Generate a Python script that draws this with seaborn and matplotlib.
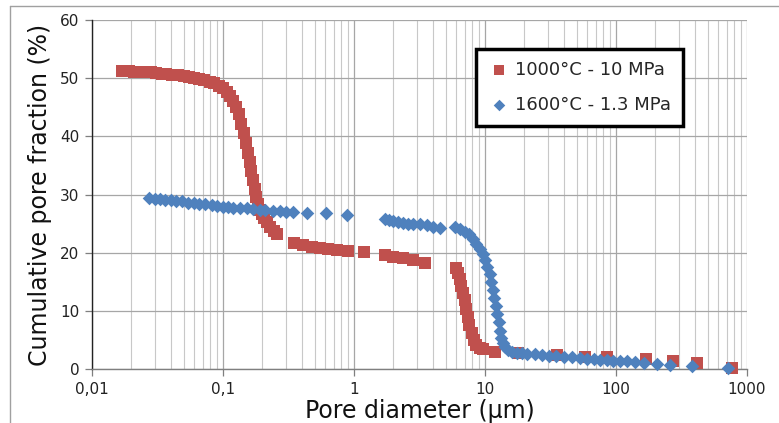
import seaborn as sns
import pandas as pd
import matplotlib.pyplot as plt
import numpy as np
from matplotlib.ticker import LogLocator, NullFormatter
from matplotlib.lines import Line2D

# 1000°C - 10 MPa (red squares)
red_d = [0.017, 0.019, 0.021, 0.023, 0.025, 0.028, 0.031, 0.034, 0.037, 0.041,
         0.045, 0.05, 0.055, 0.06, 0.066, 0.072, 0.079, 0.086, 0.094, 0.1,
         0.107, 0.114, 0.12, 0.126, 0.132, 0.138, 0.144, 0.15, 0.155, 0.16,
         0.165, 0.17, 0.175, 0.18, 0.185, 0.19, 0.197, 0.205, 0.215, 0.23,
         0.245, 0.26, 0.35, 0.41, 0.48, 0.55, 0.63, 0.74, 0.9, 1.19,
         1.72, 1.98, 2.37, 2.8, 3.5, 6.0, 6.2, 6.4, 6.6, 6.8,
         7.0, 7.2, 7.4, 7.6, 7.9, 8.2, 8.6, 9.1, 9.7, 11.9,
         18, 35.7, 58, 85, 170, 270, 415, 770]
red_v = [51.2, 51.2, 51.1, 51.1, 51.0, 51.0, 50.9, 50.8, 50.7, 50.6,
         50.5, 50.4, 50.2, 50.0, 49.8, 49.6, 49.4, 49.1, 48.7, 48.3,
         47.7, 47.0, 46.0, 45.0, 43.8, 42.2, 40.5, 38.8, 37.2, 35.6,
         34.0, 32.5, 31.0, 29.5, 28.3, 27.4, 26.6, 25.9, 25.2, 24.4,
         23.7, 23.2, 21.6, 21.3, 21.0, 20.8, 20.6, 20.4, 20.3, 20.1,
         19.6, 19.3, 19.0, 18.7, 18.2, 17.3, 16.5, 15.5, 14.3, 13.0,
         11.8, 10.4, 9.0, 7.6, 6.2, 5.0, 4.2, 3.6, 3.4, 2.9,
         2.8, 2.4, 2.1, 2.1, 1.7, 1.4, 1.1, 0.1]

# 1600°C - 1.3 MPa (blue diamonds)
blue_d = [0.027, 0.030, 0.033, 0.036, 0.040, 0.044, 0.049, 0.054, 0.060, 0.066,
          0.073, 0.082, 0.09, 0.1, 0.11, 0.12, 0.135, 0.152, 0.17, 0.19,
          0.21, 0.24, 0.27, 0.30, 0.34, 0.44, 0.61, 0.88, 1.72, 1.85,
          1.98, 2.15, 2.37, 2.6, 2.8, 3.2, 3.6, 4.0, 4.5, 5.9,
          6.5, 7.0, 7.5, 8.1, 8.6, 9.1, 9.6, 10.0, 10.4, 10.9,
          11.2, 11.5, 11.8, 12.1, 12.4, 12.7, 13.0, 13.3, 13.7, 14.3,
          15.0, 16.0, 17.5, 19, 21, 24, 27, 31, 35, 40,
          46, 53, 60, 68, 76, 85, 95, 108, 122, 140,
          163, 205, 260, 380, 720]
blue_v = [29.4, 29.3, 29.2, 29.1, 29.0, 28.9, 28.8, 28.6, 28.5, 28.45,
          28.4, 28.2, 28.0, 27.9, 27.8, 27.7, 27.6, 27.6, 27.5, 27.4,
          27.3, 27.2, 27.1, 27.0, 27.0, 26.9, 26.8, 26.4, 25.8, 25.6,
          25.4, 25.3, 25.1, 25.0, 25.0, 24.9, 24.7, 24.4, 24.2, 24.4,
          24.0, 23.6, 23.2, 22.4, 21.5, 20.6, 19.7, 18.7, 17.6, 16.4,
          15.0, 13.6, 12.2, 10.8, 9.5, 8.0, 6.6, 5.4, 4.5, 3.7,
          3.2, 3.0, 2.8, 2.7, 2.6, 2.5, 2.4, 2.3, 2.2, 2.1,
          2.0, 1.9, 1.8, 1.7, 1.6, 1.5, 1.4, 1.4, 1.3, 1.2,
          1.1, 0.9, 0.7, 0.5, 0.1]

x_ticks = [0.01, 0.1, 1, 10, 100, 1000]
x_tick_labels = ['0,01', '0,1', '1', '10', '100', '1000']
y_ticks = [0, 10, 20, 30, 40, 50, 60]

red_df = pd.DataFrame({'d': red_d, 'v': red_v})
blue_df = pd.DataFrame({'d': blue_d, 'v': blue_v})

sns.set_theme(style='white')
plt.rcParams['font.family'] = ['DejaVu Sans']

fig = plt.figure(figsize=(7.79, 4.23), dpi=100)
ax = fig.add_axes([92 / 779, 1 - 369 / 423, 655 / 779, 349 / 423])

sns.scatterplot(data=red_df, x='d', y='v', marker='s', s=68, color='#C0504D',
                linewidth=0, ax=ax, label='1000°C - 10 MPa', clip_on=False, zorder=3)
sns.scatterplot(data=blue_df, x='d', y='v', marker='D', s=48, color='#4F81BD',
                linewidth=0, ax=ax, label='1600°C - 1.3 MPa', clip_on=False, zorder=4)

ax.set_xscale('log')
ax.set_xlim(0.01, 1000)
ax.set_ylim(0, 60)
ax.set_xticks(x_ticks)
ax.set_xticklabels(x_tick_labels)
ax.set_yticks(y_ticks)
ax.xaxis.set_minor_locator(LogLocator(base=10, subs=np.arange(2, 10)))
ax.xaxis.set_minor_formatter(NullFormatter())

ax.grid(which='major', axis='both', color='#A6A6A6', linewidth=0.9)
ax.grid(which='minor', axis='x', color='#C8C8C8', linewidth=0.8)
ax.set_axisbelow(True)

ax.tick_params(axis='both', which='major', direction='out', length=5, width=0.9,
               color='#7F7F7F', labelsize=11, labelcolor='#222222', pad=4)
ax.tick_params(axis='x', which='minor', length=0)
ax.tick_params(left=True, bottom=True)

for side in ['top', 'right']:
    ax.spines[side].set_visible(False)
ax.spines['left'].set_color('#222222')
ax.spines['bottom'].set_color('#7F7F7F')
ax.spines['left'].set_linewidth(1.0)
ax.spines['bottom'].set_linewidth(1.0)

ax.set_xlabel('Pore diameter (µm)', fontsize=17, color='#111111', labelpad=2)
ax.set_ylabel('Cumulative pore fraction (%)', fontsize=17, color='#111111', labelpad=6)

leg = ax.legend(loc='upper left', bbox_to_anchor=(476 / 779, 1 - 49 / 423),
                bbox_transform=fig.transFigure, fontsize=13, frameon=True,
                fancybox=False, borderpad=0.65, labelspacing=0.95, borderaxespad=0,
                handlelength=1.2, handletextpad=0.3, markerscale=0.85)
leg.get_frame().set_edgecolor('black')
leg.get_frame().set_linewidth(2.5)
leg.get_frame().set_facecolor('white')
leg.get_frame().set_alpha(1)

# outer frame of the chart area
fig.add_artist(Line2D([9.5 / 779, 9.5 / 779], [0, 1 - 6.5 / 423], transform=fig.transFigure,
                      color='#A0A0A0', linewidth=1.0))
fig.add_artist(Line2D([9.5 / 779, 1], [1 - 6.5 / 423, 1 - 6.5 / 423], transform=fig.transFigure,
                      color='#A0A0A0', linewidth=1.0))

fig.savefig('out.png', dpi=100)
